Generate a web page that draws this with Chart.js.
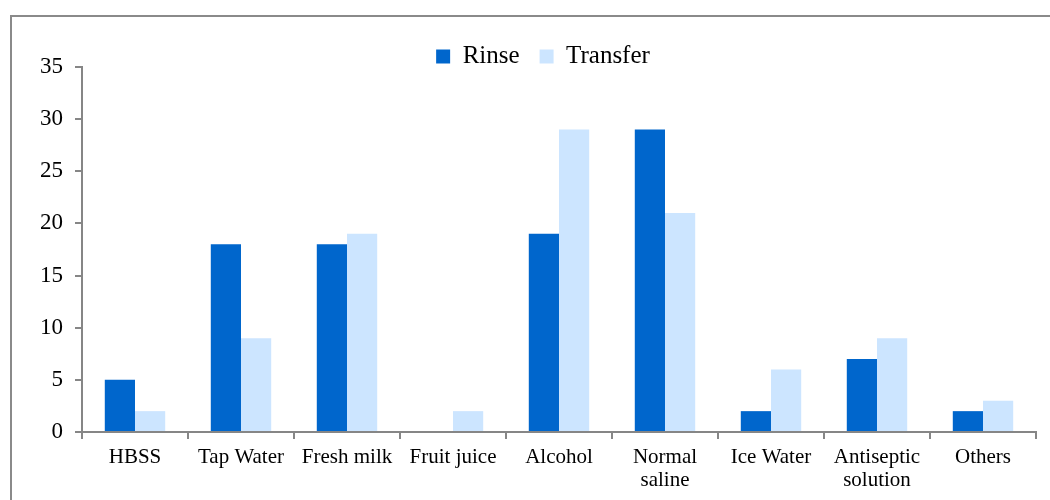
<!DOCTYPE html>
<html>
<head>
<meta charset="utf-8">
<script src="https://cdn.jsdelivr.net/npm/chart.js@4"></script>
<style>
  html, body { margin: 0; padding: 0; background: #fff; }
  #wrap { position: relative; width: 1050px; height: 500px; }
</style>
</head>
<body>
<div id="wrap"><canvas id="chart" width="1050" height="500"></canvas></div>
<script>
// categories and series
const categories = ['HBSS', 'Tap Water', 'Fresh milk', 'Fruit juice', 'Alcohol',
                    ['Normal', 'saline'], 'Ice Water', ['Antiseptic', 'solution'], 'Others'];
const rinse    = [5, 18, 18, 0, 19, 29, 2, 7, 2];
const transfer = [2, 9, 19, 2, 29, 21, 6, 9, 3];
const yTicks   = { min: 0, max: 35, step: 5 };

const axisColor  = '#868686';
const textColor  = '#000';
const fontFamily = "'Liberation Serif', 'Times New Roman', serif";

Chart.defaults.font.family = fontFamily;
Chart.defaults.color = textColor;

// grey frame on the left and top, like the pasted office chart
const framePlugin = {
    id: 'frame',
    beforeDraw(chart) {
        const ctx = chart.ctx;
        ctx.save();
        ctx.strokeStyle = '#8a8a8a';
        ctx.lineWidth = 2;
        ctx.beginPath();
        ctx.moveTo(11, 500);
        ctx.lineTo(11, 16);
        ctx.lineTo(1050, 16);
        ctx.stroke();
        ctx.restore();
    }
};

// legend sits a bit right of the canvas centre in the original
const legendShift = {
    id: 'legendShift',
    afterLayout(chart) {
        chart.legend.left += 25;
        chart.legend.right += 25;
    }
};

new Chart(document.getElementById('chart'), {
    type: 'bar',
    data: {
        labels: categories,
        datasets: [
            { label: 'Rinse',    data: rinse,    backgroundColor: '#0066CC' },
            { label: 'Transfer', data: transfer, backgroundColor: '#CCE5FF' }
        ]
    },
    options: {
        responsive: false,
        animation: false,
        categoryPercentage: 0.57,
        barPercentage: 1.0,
        layout: { padding: { left: 0, right: 14, top: 24, bottom: 0 } },
        plugins: {
            legend: {
                position: 'top',
                maxHeight: 43,
                labels: {
                    boxWidth: 14,
                    boxHeight: 14,
                    padding: 20,
                    color: textColor,
                    font: { size: 25 }
                }
            },
            tooltip: { enabled: false }
        },
        scales: {
            x: {
                grid: { drawOnChartArea: false, color: axisColor, lineWidth: 2, tickLength: 7, offset: true },
                border: { color: axisColor, width: 2 },
                ticks: { color: textColor, font: { size: 21, lineHeight: 1.1 }, maxRotation: 0, autoSkip: false, padding: 7 },
                afterFit: s => { s.height = 68; }
            },
            y: {
                min: yTicks.min,
                max: yTicks.max,
                grid: { drawOnChartArea: false, color: axisColor, lineWidth: 2, tickLength: 7 },
                border: { color: axisColor, width: 2 },
                ticks: { stepSize: yTicks.step, color: textColor, font: { size: 23 }, padding: 12 },
                afterFit: s => { s.width = 82; }
            }
        }
    },
    plugins: [framePlugin, legendShift]
});
</script>
</body>
</html>
